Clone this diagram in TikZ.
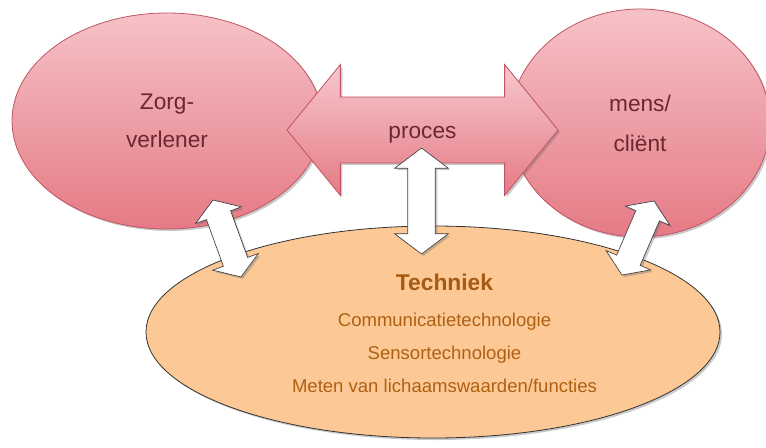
\documentclass[tikz,border=0pt]{standalone}
\usepackage{fontspec}
\setmainfont{Liberation Sans}
\usetikzlibrary{shapes.geometric,shapes.arrows,shadows}

\definecolor{pinktop}{RGB}{246,194,199}
\definecolor{pinkbot}{RGB}{229,122,133}
\definecolor{pinkline}{RGB}{192,84,98}
\definecolor{pinkink}{RGB}{108,40,46}
\definecolor{peach}{RGB}{252,201,150}
\definecolor{techbrown}{RGB}{176,96,18}

\tikzset{
  softshadow/.style={drop shadow={shadow xshift=1.5pt, shadow yshift=-1.5pt, opacity=0.35, fill=black!60}},
  bubble/.style={ellipse, draw=pinkline, line width=0.6pt, top color=pinktop, bottom color=pinkbot,
    text=pinkink, align=center, inner sep=0pt, font=\fontsize{17}{20.4}\selectfont, softshadow},
  blockarrow/.style={double arrow, draw=pinkline, line width=0.6pt, top color=pinktop!90!white, bottom color=pinkbot,
    text=pinkink, font=\fontsize{17}{20.4}\selectfont, softshadow},
  whitearrow/.style={double arrow, draw=black!75, line width=0.5pt, fill=white, inner xsep=0pt, softshadow},
  techline/.style={anchor=base, text=techbrown, font=\fontsize{13.9}{16}\selectfont}
}

\begin{document}
\begin{tikzpicture}[x=0.75pt, y=0.75pt]
    \useasboundingbox (0,0) rectangle (766,447);

    % techniek
    \node[ellipse, draw=black!80, line width=0.6pt, fill=peach, minimum width=430.5pt, minimum height=159pt, inner sep=0pt, softshadow]
      (tech) at (433,115) {};
    \node[techline, font=\fontsize{17.1}{20}\selectfont\bfseries, text=techbrown!95!black] (techtitle) at (444.5,157) {Techniek};
    \node[techline] (comm) at (444.5,120.3) {Communicatietechnologie};
    \node[techline] (sensor) at (444.5,87.7) {Sensortechnologie};
    \node[techline] (meten) at (444.5,54.3) {Meten van lichaamswaarden/functies};

    % zorgverlener en client
    \node[bubble, minimum width=232.5pt, minimum height=162pt] (zorg) at (167,326) {Zorg-\\[8pt]verlener};
    \node[bubble, minimum width=195pt, minimum height=171pt] (client) at (640,324) {mens/\\[9.5pt]cliënt};

    % proces
    \node[blockarrow, minimum height=203.25pt, inner xsep=0pt, inner ysep=16.4pt, text height=14pt, text depth=2pt,
      double arrow tip angle=101.6, double arrow head extend=24.4pt] (proces) at (422.5,317) {proces};

    % wisselwerking
    \node[whitearrow, minimum height=79.5pt, inner ysep=10.1pt, double arrow tip angle=106,
      double arrow head extend=9.75pt, rotate=90] (midarrow) at (421.5,246) {};
    \node[whitearrow, minimum height=61.4pt, inner ysep=9.4pt, double arrow tip angle=113,
      double arrow head extend=8.6pt, rotate=110] (leftarrow) at (227,208.5) {};
    \node[whitearrow, minimum height=60.5pt, inner ysep=9.4pt, double arrow tip angle=113,
      double arrow head extend=8.6pt, rotate=66.6] (rightarrow) at (638,209) {};
\end{tikzpicture}
\end{document}
